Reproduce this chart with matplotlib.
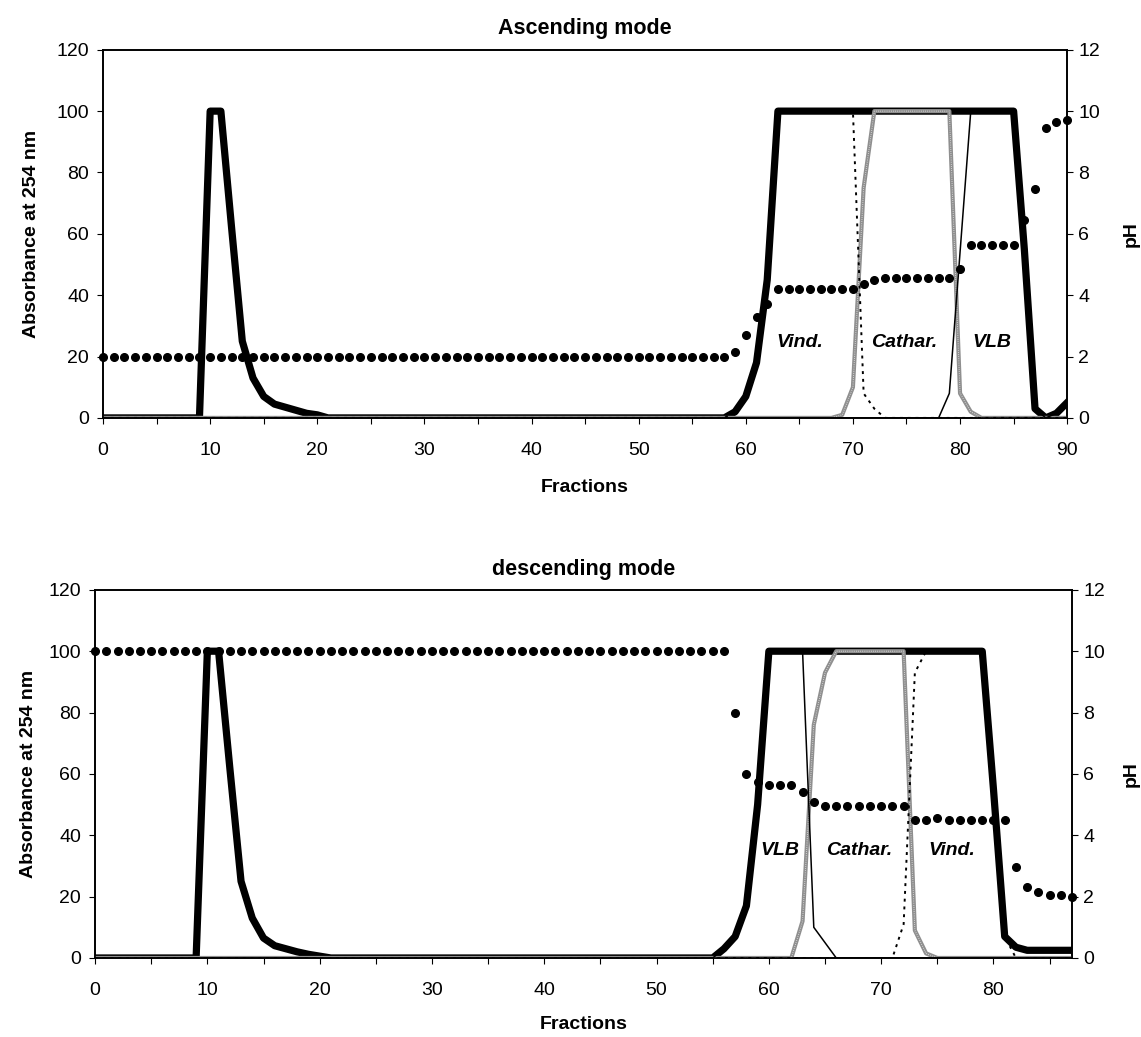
import numpy as np
import matplotlib.pyplot as plt
from matplotlib.ticker import MultipleLocator

plt.rcParams['font.family'] = ['Liberation Sans', 'DejaVu Sans']

# ---- ascending mode (fractions 0..90) ----
asc_frac = np.arange(0, 91)
asc_total = ([0] * 10 + [100, 100, 62, 25, 13, 7, 4.5, 3.5, 2.5, 1.5, 1]
             + [0] * 38 + [2, 7, 18, 45] + [100] * 23 + [55, 3, 0, 1.5, 5])
asc_cathar = [0] * 69 + [1, 10, 75] + [100] * 8 + [8, 2] + [0] * 9
asc_vind = [0] * 59 + [2, 7, 18, 45] + [100] * 8 + [8, 3] + [0] * 18
asc_vlb = [0] * 79 + [8, 54] + [100] * 5 + [55, 3, 0, 1.5, 5]
asc_ph = ([2.0] * 59 + [2.15, 2.7, 3.3, 3.7] + [4.2] * 8 + [4.35, 4.5]
          + [4.55] * 7 + [4.85] + [5.65] * 5 + [6.45, 7.45, 9.45, 9.65, 9.7])
asc_labels = ["Vind.", "Cathar.", "VLB"]
asc_label_x = [65, 74.8, 83]
asc_label_y = [24.5, 24.5, 24.5]

# ---- descending mode (fractions 0..87) ----
desc_frac = np.arange(0, 88)
desc_total = ([0] * 10 + [100, 100, 62, 25, 13, 6.5, 4, 3, 2, 1.2, 0.6]
              + [0] * 35 + [3, 7, 17, 50] + [100] * 20 + [55, 7, 3.5] + [2.5] * 5)
desc_cathar = [0] * 63 + [12, 76, 93] + [100] * 7 + [9, 1.5] + [0] * 13
desc_vind = [0] * 72 + [11, 93] + [100] * 6 + [55, 7] + [0] * 6
desc_vlb = [0] * 56 + [3, 7, 17, 50] + [100] * 4 + [10, 5] + [0] * 22
desc_ph = ([10.0] * 57 + [8.0, 6.0, 5.75] + [5.65] * 3 + [5.4, 5.1] + [4.95] * 8
           + [4.5, 4.5, 4.55] + [4.5] * 6 + [2.95, 2.3, 2.15, 2.05, 2.05, 2.0])
desc_labels = ["VLB", "Cathar.", "Vind."]
desc_label_x = [61, 68, 76.3]
desc_label_y = [35, 35, 35]


def draw_panel(ax, frac, total, cathar, vind, vlb, ph, title, xmax,
               labels, lx, ly, ylab_x, ph_x, xlab_y):
    ax.plot(frac, total, color='black', lw=5.2, solid_joinstyle='round', zorder=2)
    ax.plot(frac, cathar, color='#8f8f8f', lw=3.0, zorder=3)
    ax.plot(frac, cathar, color='white', lw=0.7, ls=(0, (0.6, 1.6)), zorder=3.1)
    ax.plot(frac, vind, color='black', lw=1.4, ls=(0, (1.5, 2.5)), zorder=4)
    ax.plot(frac, vlb, color='black', lw=1.1, zorder=4)

    for t, x, y in zip(labels, lx, ly):
        ax.text(x, y, t, ha='center', va='center', fontsize=14,
                fontweight='bold', fontstyle='italic', zorder=6)

    ax.set_xlim(0, xmax)
    ax.set_ylim(0, 120)
    ax.xaxis.set_major_locator(MultipleLocator(10))
    ax.xaxis.set_minor_locator(MultipleLocator(5))
    ax.yaxis.set_major_locator(MultipleLocator(20))
    ax.tick_params(axis='x', which='both', direction='out', length=4, width=0.8,
                   labelsize=14, pad=13)
    ax.tick_params(axis='y', direction='out', length=4, width=0.8, labelsize=14, pad=6)
    for s in ax.spines.values():
        s.set_linewidth(1.2)
    ax.set_xlabel("Fractions", fontsize=14, fontweight='bold')
    ax.xaxis.set_label_coords(0.5, xlab_y)
    ax.set_ylabel("Absorbance at 254 nm", fontsize=14, fontweight='bold')
    ax.yaxis.set_label_coords(ylab_x, 0.5)
    ax.set_title(title, fontsize=15.5, fontweight='bold', pad=11)

    ax2 = ax.twinx()
    ax2.plot(frac, ph, ls='none', marker='o', ms=5.5, color='black', clip_on=False, zorder=7)
    ax2.set_ylim(0, 12)
    ax2.yaxis.set_major_locator(MultipleLocator(2))
    ax2.tick_params(axis='y', direction='out', length=4, width=0.8, labelsize=14, pad=4)
    for s in ax2.spines.values():
        s.set_linewidth(1.2)
    ax2.set_ylabel("pH", fontsize=14, fontweight='bold')
    ax2.yaxis.set_label_coords(ph_x, 0.5)
    return ax2


fig = plt.figure(figsize=(11.41, 10.37), dpi=100)
ax_top = fig.add_axes([0.0903, 0.597, 0.845, 0.355])
ax_bot = fig.add_axes([0.0833, 0.0762, 0.8563, 0.355])

draw_panel(ax_top, asc_frac, asc_total, asc_cathar, asc_vind, asc_vlb, asc_ph,
           "Ascending mode", 90, asc_labels, asc_label_x, asc_label_y,
           -0.065, 1.058, -0.165)
draw_panel(ax_bot, desc_frac, desc_total, desc_cathar, desc_vind, desc_vlb, desc_ph,
           "descending mode", 87, desc_labels, desc_label_x, desc_label_y,
           -0.059, 1.052, -0.158)

fig.savefig("out.png", dpi=100)
